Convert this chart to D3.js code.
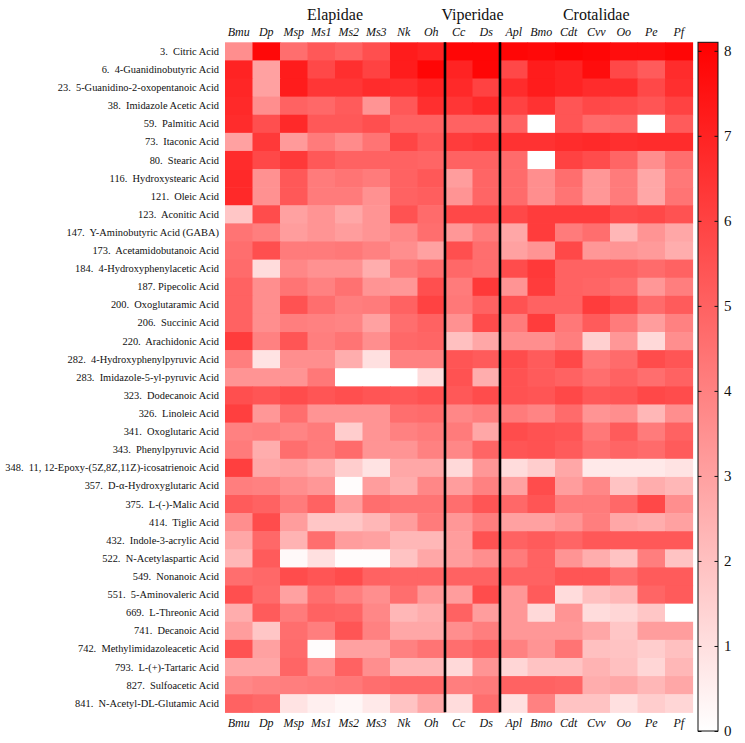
<!DOCTYPE html>
<html><head><meta charset="utf-8">
<script src="https://cdn.jsdelivr.net/npm/d3@7"></script>
<style>
body{margin:0;background:#fff}
.rl{white-space:pre}
</style>
</head><body>
<svg id="c" width="745" height="743" font-family="'Liberation Serif', 'DejaVu Serif', serif"></svg>
<script>
const columns = ["Bmu","Dp","Msp","Ms1","Ms2","Ms3","Nk","Oh","Cc","Ds","Apl","Bmo","Cdt","Cvv","Oo","Pe","Pf"];
const groups = [
  {name:"Elapidae", first:"Bmu", last:"Oh"},
  {name:"Viperidae", first:"Cc", last:"Ds"},
  {name:"Crotalidae", first:"Apl", last:"Pf"}
];
const rowLabels = [
  "3.  Citric Acid",
  "6.  4-Guanidinobutyric Acid",
  "23.  5-Guanidino-2-oxopentanoic Acid",
  "38.  Imidazole Acetic Acid",
  "59.  Palmitic Acid",
  "73.  Itaconic Acid",
  "80.  Stearic Acid",
  "116.  Hydroxystearic Acid",
  "121.  Oleic Acid",
  "123.  Aconitic Acid",
  "147.  Y-Aminobutyric Acid (GABA)",
  "173.  Acetamidobutanoic Acid",
  "184.  4-Hydroxyphenylacetic Acid",
  "187. Pipecolic Acid",
  "200.  Oxoglutaramic Acid",
  "206.  Succinic Acid",
  "220.  Arachidonic Acid",
  "282.  4-Hydroxyphenylpyruvic Acid",
  "283.  Imidazole-5-yl-pyruvic Acid",
  "323.  Dodecanoic Acid",
  "326.  Linoleic Acid",
  "341.  Oxoglutaric Acid",
  "343.  Phenylpyruvic Acid",
  "348.  11, 12-Epoxy-(5Z,8Z,11Z)-icosatrienoic Acid",
  "357.  D-\u03b1-Hydroxyglutaric Acid",
  "375.  L-(-)-Malic Acid",
  "414.  Tiglic Acid",
  "432.  Indole-3-acrylic Acid",
  "522.  N-Acetylaspartic Acid",
  "549.  Nonanoic Acid",
  "551.  5-Aminovaleric Acid",
  "669.  L-Threonic Acid",
  "741.  Decanoic Acid",
  "742.  Methylimidazoleacetic Acid",
  "793.  L-(+)-Tartaric Acid",
  "827.  Sulfoacetic Acid",
  "841.  N-Acetyl-DL-Glutamic Acid"
];
// values per row, in column order
const values = [
  [3.6,7.8,4.6,5.3,5.0,5.6,7.2,7.0,7.9,7.9,7.9,7.8,8.0,7.9,7.7,7.7,7.9],
  [7.0,3.0,7.2,5.8,6.6,6.0,7.2,7.9,7.0,7.9,5.8,7.2,7.0,7.7,5.8,5.2,6.7],
  [6.9,3.0,7.2,6.4,6.4,6.7,6.6,7.0,6.8,6.0,6.7,7.2,7.0,6.7,6.7,5.8,6.6],
  [6.8,3.6,5.0,4.8,5.2,3.4,5.3,6.6,6.4,6.8,6.0,6.5,5.4,5.8,5.7,5.4,6.0],
  [6.7,5.6,6.8,5.3,5.3,5.6,5.0,5.0,5.0,5.0,5.0,0.0,5.4,4.7,4.8,0.0,5.2],
  [3.0,6.3,3.2,4.2,3.7,4.4,5.9,5.3,6.2,6.4,6.5,6.5,6.7,6.8,6.6,6.7,6.7],
  [6.7,5.8,6.3,5.3,5.0,5.0,5.0,4.9,5.0,5.0,4.7,0.0,6.0,5.7,4.9,3.6,4.6],
  [6.8,3.5,5.3,4.2,4.4,4.2,5.0,5.3,3.1,4.9,4.7,3.6,4.6,3.3,4.2,2.8,4.3],
  [6.8,3.5,5.3,4.2,4.2,3.5,5.0,5.1,3.4,4.9,4.7,3.6,4.4,3.3,4.2,2.8,4.4],
  [1.8,5.7,3.0,3.4,2.8,3.4,5.5,4.7,5.8,5.8,5.8,6.2,6.2,6.2,5.7,5.8,5.5],
  [4.4,4.1,3.1,3.4,3.1,3.4,3.8,4.6,3.3,4.2,2.8,6.2,4.2,4.6,2.3,3.4,2.8],
  [4.6,5.6,4.2,4.2,4.3,4.0,3.6,3.0,5.6,4.6,3.0,3.4,5.8,3.3,3.4,3.2,2.6],
  [4.7,1.1,3.8,3.5,3.5,2.6,4.2,4.6,4.8,4.6,5.7,6.3,5.0,5.0,5.0,4.7,5.0],
  [5.0,3.6,4.4,4.0,4.5,3.4,3.3,5.6,4.2,6.3,3.4,6.2,5.0,4.9,4.6,3.3,4.1],
  [5.0,3.6,5.5,4.6,4.1,4.2,5.0,6.0,4.3,5.0,5.5,5.0,5.0,6.2,5.7,4.7,5.2],
  [5.0,3.6,4.1,4.0,3.9,3.0,4.6,5.0,3.5,5.7,4.2,6.2,4.3,5.2,4.2,3.1,4.0],
  [6.2,4.0,5.4,4.1,4.4,3.6,4.8,4.9,2.0,2.8,3.6,3.6,4.1,1.5,3.3,1.2,3.6],
  [4.1,0.9,3.6,3.6,2.6,1.0,4.0,4.0,5.4,5.2,5.7,5.2,5.8,4.3,4.7,5.7,5.4],
  [3.4,3.4,3.4,4.3,0.0,0.0,0.0,1.1,5.5,2.6,5.5,5.2,5.0,4.6,5.0,4.6,5.0],
  [5.6,5.4,5.7,5.4,5.6,5.4,5.3,5.5,5.3,5.7,5.5,5.4,5.8,5.3,5.4,5.8,5.7],
  [6.1,3.3,4.6,3.4,3.4,3.4,4.6,4.7,3.8,4.1,4.2,3.9,4.7,3.4,3.6,2.3,3.6],
  [4.0,4.1,3.9,4.2,1.6,3.4,4.0,4.2,4.2,2.8,5.7,5.5,5.4,4.3,5.2,4.2,5.0],
  [4.2,2.6,4.6,4.2,4.7,3.4,3.4,4.0,3.8,4.9,5.4,5.5,5.2,4.6,4.9,4.7,5.2],
  [6.1,2.8,3.0,2.6,1.6,0.9,2.8,2.8,1.2,3.3,1.1,1.6,2.8,0.7,0.7,0.7,0.9],
  [4.1,4.0,3.6,3.3,0.1,3.1,2.6,3.8,3.1,4.0,3.0,5.7,3.1,3.8,1.9,2.6,2.3],
  [5.2,5.0,4.2,5.0,3.1,4.6,4.4,4.4,4.6,5.4,4.8,5.4,4.2,4.2,4.8,5.8,3.6],
  [3.6,5.7,3.1,1.8,1.8,2.3,3.1,4.2,3.3,4.1,3.0,3.0,3.4,4.1,2.8,2.6,3.0],
  [2.8,4.8,2.4,4.6,3.1,3.0,2.3,2.3,3.1,5.5,5.0,5.2,4.9,5.3,5.3,5.3,5.3],
  [2.3,5.2,0.2,1.0,0.1,0.1,1.9,2.8,3.1,3.6,4.2,5.0,3.4,2.6,1.9,4.1,1.9],
  [4.6,4.8,5.7,5.4,5.7,5.0,4.9,4.9,5.0,5.0,5.0,5.0,5.4,5.4,4.6,5.2,5.2],
  [5.6,4.7,3.0,4.6,4.1,3.6,4.6,3.3,3.1,5.7,3.3,5.2,1.1,2.0,2.3,4.9,5.2],
  [2.6,5.2,4.2,5.0,4.9,3.8,2.3,2.6,5.0,3.1,3.3,1.2,3.4,1.1,1.3,1.8,0.0],
  [3.1,1.8,4.6,4.1,5.4,4.0,2.8,2.8,3.6,4.1,3.3,3.3,3.3,2.8,1.8,3.1,3.1],
  [5.5,3.0,4.7,0.1,3.0,3.0,4.0,4.4,4.6,5.0,4.0,3.4,4.4,2.0,1.9,1.6,2.0],
  [2.8,2.8,4.9,3.6,5.0,3.6,2.3,2.3,1.2,3.4,1.3,1.9,1.9,2.4,2.0,1.3,2.3],
  [3.8,4.0,4.1,4.2,4.3,4.6,4.8,4.8,4.1,4.2,5.0,5.0,4.9,2.6,2.8,2.3,2.8],
  [5.0,4.8,0.9,0.5,0.3,0.7,1.9,2.8,1.1,4.6,1.0,4.0,1.9,1.9,1.0,1.6,1.3]
];
const colorTicks = [0,1,2,3,4,5,6,7,8];
const colorMax = 8.1;

const FONT = "'Liberation Serif', 'DejaVu Serif', serif";
const svg = d3.select("#c");
const x = d3.scaleBand().domain(columns).range([225, 692.5]);
const y = d3.scaleBand().domain(rowLabels).range([42.3, 712.3]);
const color = d3.scaleLinear().domain([0, colorMax]).range(["#ffffff", "#ff0000"]).clamp(true);

const cells = [];
rowLabels.forEach((r, i) => columns.forEach((c, j) => cells.push({r, c, v: values[i][j]})));

svg.append("g").selectAll("rect").data(cells).join("rect")
  .attr("x", d => x(d.c)).attr("y", d => y(d.r))
  .attr("width", x.bandwidth() + 0.6).attr("height", y.bandwidth() + 0.6)
  .attr("fill", d => color(d.v));

// group separators
["Cc","Apl"].forEach(c => {
  svg.append("line").attr("x1", x(c)).attr("x2", x(c))
    .attr("y1", y.range()[0]).attr("y2", y.range()[1])
    .attr("stroke", "#000").attr("stroke-width", 2.6);
});

// row labels
const rl = svg.append("g").selectAll("text").data(rowLabels).join("text")
  .attr("class", "rl").attr("font-family", FONT).attr("fill", "#111")
  .attr("x", 219).attr("y", d => y(d) + y.bandwidth() / 2)
  .attr("text-anchor", "end").attr("dominant-baseline", "central")
  .attr("font-size", 12).text(d => d);
let maxW = 0;
rl.each(function(){ maxW = Math.max(maxW, this.getComputedTextLength()); });
const fs = Math.min(12.8, 12 * 214 / maxW);
rl.attr("font-size", fs);

// column labels top and bottom
[31.5, 723].forEach(yy => {
  svg.append("g").selectAll("text").data(columns).join("text")
    .attr("font-family", FONT).attr("fill", "#111")
    .attr("x", d => x(d) + x.bandwidth() / 2).attr("y", yy)
    .attr("text-anchor", "middle").attr("dominant-baseline", "central")
    .attr("font-style", "italic").attr("font-size", 12).text(d => d);
});

// group headers
svg.append("g").selectAll("text").data(groups).join("text")
  .attr("font-family", FONT).attr("fill", "#111")
  .attr("x", d => (x(d.first) + x(d.last) + x.bandwidth()) / 2)
  .attr("y", 14)
  .attr("text-anchor", "middle").attr("dominant-baseline", "central")
  .attr("font-size", 16).text(d => d.name);

// colour bar
const cbX = 698, cbW = 20;
const cy = d3.scaleLinear().domain([0, colorMax]).range([731, 42.3]);
const defs = svg.append("defs");
const grad = defs.append("linearGradient").attr("id", "cb")
  .attr("x1", 0).attr("y1", 1).attr("x2", 0).attr("y2", 0);
grad.append("stop").attr("offset", 0).attr("stop-color", color(0));
grad.append("stop").attr("offset", 1).attr("stop-color", color(colorMax));
svg.append("rect").attr("x", cbX).attr("y", cy(colorMax))
  .attr("width", cbW).attr("height", cy(0) - cy(colorMax))
  .attr("fill", "url(#cb)").attr("stroke", "#111").attr("stroke-width", 1);

const axR = svg.append("g").attr("transform", `translate(${cbX + cbW},0)`)
  .call(d3.axisRight(cy).tickValues(colorTicks).tickSize(-3.5).tickPadding(6).tickFormat(d3.format("d")));
axR.attr("font-family", FONT).attr("font-size", 15);
axR.select(".domain").remove();
axR.selectAll("text").attr("fill", "#111");
axR.selectAll("line").attr("stroke", "#111");
const axL = svg.append("g").attr("transform", `translate(${cbX},0)`)
  .call(d3.axisLeft(cy).tickValues(colorTicks).tickSize(-3.5).tickFormat(""));
axL.select(".domain").remove();
axL.selectAll("line").attr("stroke", "#111");
</script>
</body></html>
